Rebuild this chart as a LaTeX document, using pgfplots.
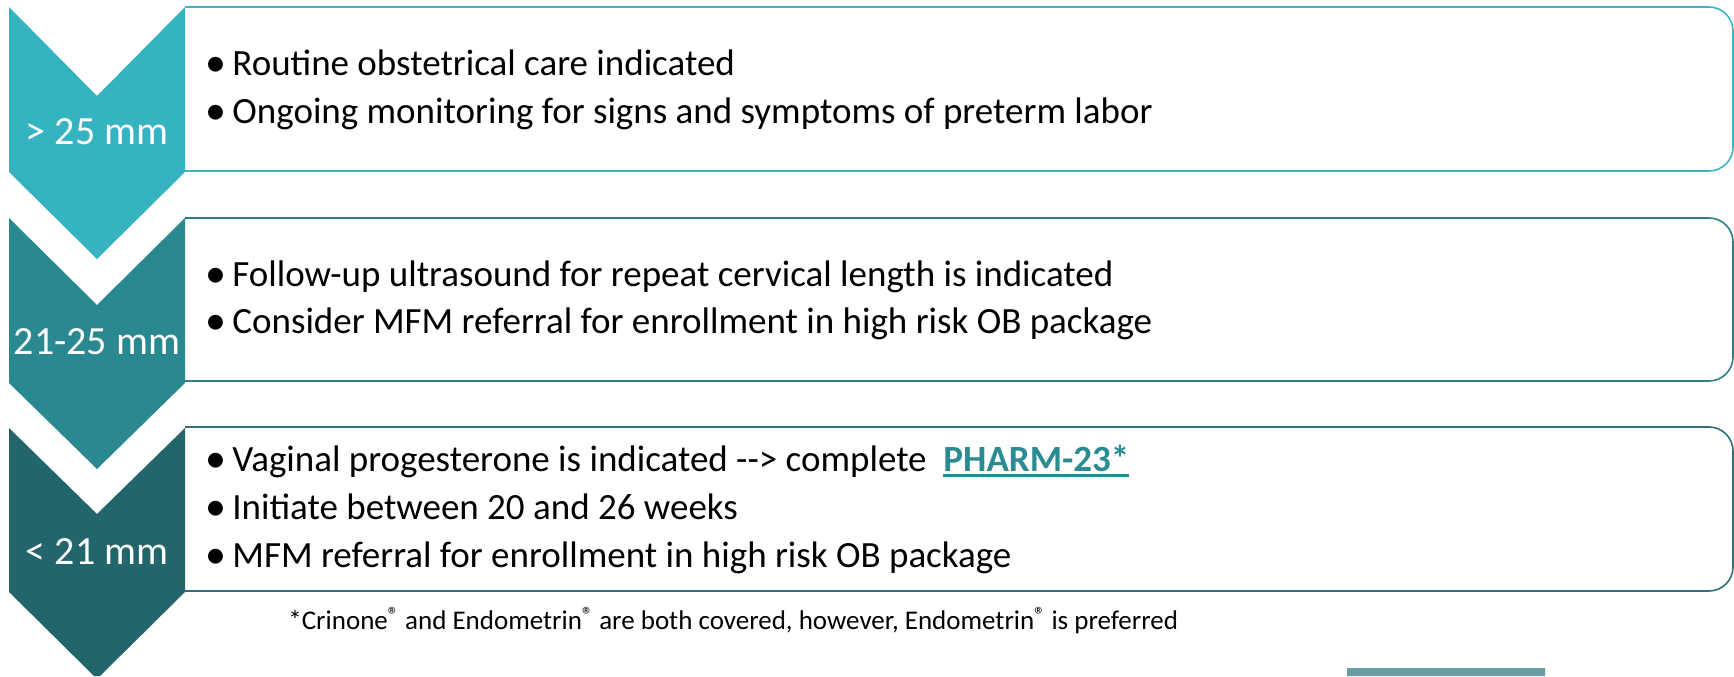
\documentclass[border=0pt]{standalone}
\usepackage{pgfplots}
\pgfplotsset{compat=1.18}
\usepackage{fontspec}
\setmainfont{Carlito}
\definecolor{c1}{HTML}{35B3C1}
\definecolor{c2}{HTML}{2A8890}
\definecolor{c3}{HTML}{22666C}
\definecolor{b1}{HTML}{3BB5C3}
\definecolor{b2}{HTML}{2C8088}
\definecolor{b3}{HTML}{2F6F75}
\definecolor{pharm}{HTML}{2A8B92}
\definecolor{foot}{HTML}{6A9CA3}
\newcommand\thickul[1]{\leavevmode\vtop{\hbox{#1}\kern1.2pt\hrule height 1.5pt}}
\newcommand\reg{\raisebox{0.5ex}{\fontsize{11}{11}\selectfont ®}}
\tikzset{
 bul/.style={anchor=base, inner sep=0pt, font=\fontsize{21}{22}\selectfont},
 txt/.style={anchor=base west, inner sep=0pt, font=\fontsize{18.5}{20}\selectfont},
 lab/.style={anchor=base, inner sep=0pt, text=white, font=\fontsize{20}{22}\selectfont},
}
\begin{document}
\begin{tikzpicture}
\begin{axis}[
 width=867pt, height=338pt, scale only axis,
 xmin=0, xmax=1734, ymin=0, ymax=676,
 hide axis, clip=true,
]
% invisible frame fixing the picture size
\addplot[draw=none] coordinates {(0,0) (1734,676)};
% chevrons
\addplot[fill=c1, draw=none] coordinates {(9,669) (97,580) (185,669) (185,504) (97,417) (9,504) (9,669)};
\addplot[fill=c2, draw=none] coordinates {(9,458) (97,371) (185,458) (185,293) (97,207) (9,293) (9,458)};
\addplot[fill=c3, draw=none] coordinates {(9,248) (97,162) (185,248) (185,84) (100,0) (94,0) (9,84) (9,248)};
% boxes
\addplot[draw=b1, line width=0.8pt, rounded corners=12pt] coordinates {(185,669) (1733,669) (1733,505) (185,505)};
\addplot[draw=b2, line width=0.8pt, rounded corners=12pt] coordinates {(185,458) (1733,458) (1733,295) (185,295)};
\addplot[draw=b3, line width=0.8pt, rounded corners=12pt] coordinates {(185,249) (1733,249) (1733,85) (185,85)};
% bottom bar fragment
\addplot[fill=foot, draw=none] coordinates {(1347,0) (1545,0) (1545,8) (1347,8) (1347,0)};
% labels
\node[lab] at (axis cs:97,531) {> 25 mm};
\node[lab] at (axis cs:97,322) {21-25 mm};
\node[lab] at (axis cs:97,112) {< 21 mm};
% box 1
\node[bul] at (axis cs:216,599) {•};
\node[txt] at (axis cs:232,600) {Routine obstetrical care indicated};
\node[bul] at (axis cs:216,551) {•};
\node[txt] at (axis cs:232,552) {Ongoing monitoring for signs and symptoms of preterm labor};
% box 2
\node[bul] at (axis cs:216,389) {•};
\node[txt] at (axis cs:232,390) {Follow-up ultrasound for repeat cervical length is indicated};
\node[bul] at (axis cs:216,342) {•};
\node[txt] at (axis cs:232,343) {Consider MFM referral for enrollment in high risk OB package};
% box 3
\node[bul] at (axis cs:216,204) {•};
\node[txt] at (axis cs:232,205) {Vaginal progesterone is indicated -{}-{}> complete\ \ \textcolor{pharm}{\thickul{\textbf{PHARM-23*}}}};
\node[bul] at (axis cs:216,156) {•};
\node[txt] at (axis cs:232,157) {Initiate between 20 and 26 weeks};
\node[bul] at (axis cs:216,108) {•};
\node[txt] at (axis cs:232,109) {MFM referral for enrollment in high risk OB package};
% footnote
\node[anchor=base west, inner sep=0pt, font=\fontsize{13.5}{16}\selectfont] at (axis cs:288,47) {*Crinone\reg{} and Endometrin\reg{} are both covered, however, Endometrin\reg{} is preferred};
\end{axis}
\end{tikzpicture}
\end{document}
